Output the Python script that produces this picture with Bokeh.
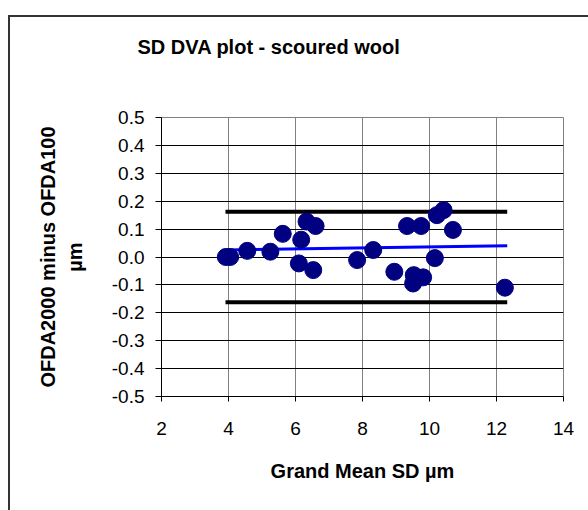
from bokeh.plotting import figure
from bokeh.models import Range1d, FixedTicker, NumeralTickFormatter, Title
from bokeh.embed import file_html
from bokeh.resources import INLINE

# Data
grand_mean_sd = [3.92, 4.05, 4.56, 5.25, 5.62, 6.10, 6.17, 6.33, 6.53, 6.60, 7.84, 8.32,
                 8.95, 9.33, 9.53, 9.51, 9.75, 9.81, 10.16, 10.22, 10.42, 10.70, 12.25]
difference = [0.000, 0.000, 0.022, 0.019, 0.083, -0.023, 0.062, 0.127, -0.047, 0.111, -0.011, 0.025,
              -0.053, 0.111, -0.065, -0.095, 0.111, -0.073, -0.004, 0.150, 0.168, 0.097, -0.110]
line_x = [3.91, 12.32]
upper_limit = [0.162, 0.162]
lower_limit = [-0.162, -0.162]
trend_y = [0.025, 0.040]
x_ticks = [2, 4, 6, 8, 10, 12, 14]
y_ticks = [-0.5, -0.4, -0.3, -0.2, -0.1, 0.0, 0.1, 0.2, 0.3, 0.4, 0.5]
title_text = "SD DVA plot - scoured wool"

FONT = "Liberation Sans"

p = figure(width=588, height=510, output_backend="svg", toolbar_location=None,
           x_range=Range1d(2, 14), y_range=Range1d(-0.5, 0.5),
           min_border_left=161, min_border_right=25, min_border_top=117, min_border_bottom=114,
           title=title_text)
p.border_fill_color = None
p.background_fill_color = "white"
p.styles = {
    "background": "linear-gradient(#333333, #333333) 8px 15px / 100% 2px no-repeat, "
                  "linear-gradient(#333333, #333333) 8px 15px / 2px 100% no-repeat, white"
}

# blank spacer between the plot area and the (outermost) title
spacer = Title(text=" ", text_font_size="1px", standoff=47, text_color="white")
p.add_layout(spacer, "above")

p.title.align = "left"
p.title.offset = -24
p.title.standoff = 20
p.title.text_font = FONT
p.title.text_font_size = "20px"
p.title.text_font_style = "bold"
p.title.text_color = "black"

p.outline_line_color = "#808080"
p.outline_line_width = 1

# grid
p.xgrid.ticker = FixedTicker(ticks=x_ticks)
p.ygrid.ticker = FixedTicker(ticks=y_ticks)
p.xgrid.grid_line_color = "#808080"
p.ygrid.grid_line_color = "black"
p.xgrid.grid_line_width = 1
p.ygrid.grid_line_width = 1

# axes
for ax in (p.xaxis[0], p.yaxis[0]):
    ax.axis_line_color = "black"
    ax.major_tick_line_color = "black"
    ax.minor_tick_line_color = None
    ax.major_tick_in = 0
    ax.major_label_text_font = FONT
    ax.major_label_text_font_size = "19px"
    ax.major_label_text_color = "black"
    ax.axis_label_text_font = FONT
    ax.axis_label_text_font_size = "20px"
    ax.axis_label_text_font_style = "bold"
    ax.axis_label_text_color = "black"
p.xaxis[0].ticker = FixedTicker(ticks=x_ticks)
p.yaxis[0].ticker = FixedTicker(ticks=y_ticks)
p.yaxis[0].formatter = NumeralTickFormatter(format="0.0")
p.xaxis[0].major_tick_out = 5
p.yaxis[0].major_tick_out = 6
p.xaxis[0].major_label_standoff = 20
p.yaxis[0].major_label_standoff = 11
p.xaxis[0].axis_label = "Grand Mean SD µm"
p.yaxis[0].axis_label = "OFDA2000 minus OFDA100\nµm"
p.xaxis[0].axis_label_standoff = 22
p.yaxis[0].axis_label_standoff = 23

# limits and trend
p.line(line_x, upper_limit, line_color="black", line_width=4)
p.line(line_x, lower_limit, line_color="black", line_width=4)
p.line(line_x, trend_y, line_color="#0000FF", line_width=3)

p.scatter(grand_mean_sd, difference, size=17, fill_color="#000080", line_color="#000080")

open("out.html", "w").write(file_html(p, INLINE))
